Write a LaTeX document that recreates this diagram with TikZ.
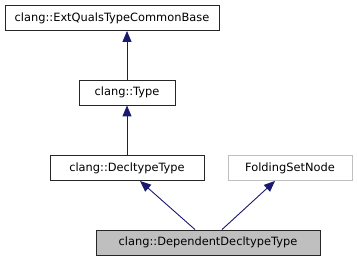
\documentclass[tikz,border=0pt]{standalone}
\usepackage{fontspec}
\setmainfont{DejaVu Sans}
\usetikzlibrary{arrows.meta,calc}
\definecolor{edgeblue}{HTML}{191970}
\definecolor{nodegray}{HTML}{BFBFBF}
\begin{document}
\begin{tikzpicture}[x=1pt,y=1pt,
  cls/.style={draw=black!85,line width=0.9pt,minimum height=25pt,inner sep=0pt,font=\fontsize{11.4}{14}\selectfont,anchor=center},
  ext/.style={cls,draw=nodegray},
  cur/.style={cls,fill=nodegray},
  inh/.style={draw=edgeblue,line width=0.9pt,-{Triangle[length=11pt,width=9pt]}}]
\useasboundingbox (0,0) rectangle (357,261);
\node[cls,minimum width=214pt] (A) at (112,243) {clang::ExtQualsTypeCommonBase};
\node[cls,minimum width=96pt] (B) at (127,168.5) {clang::Type};
\node[cls,minimum width=154pt] (C) at (127,93) {clang::DecltypeType};
\node[ext,minimum width=124pt] (D) at (290,93) {FoldingSetNode};
\node[cur,minimum width=224pt] (E) at (208,18.5) {clang::DependentDecltypeType};
\draw[inh] (B.north) -- (B.north |- A.south);
\draw[inh] (C) -- (B);
\draw[inh] ($(E.north)+(-13,0)$) -- ($(C.south)+(13,0)$);
\draw[inh] ($(E.north)+(14,0)$) -- ($(D.south)+(-15,0)$);
\end{tikzpicture}
\end{document}
